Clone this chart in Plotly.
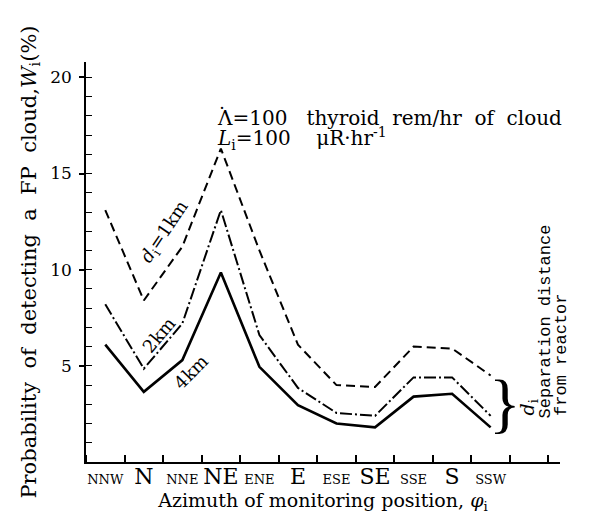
import plotly.graph_objects as go

categories = ["NNW", "N", "NNE", "NE", "ENE", "E", "ESE", "SE", "SSE", "S", "SSW"]
major_dirs = {"N", "NE", "E", "SE", "S"}
w_1km = [13.1, 8.4, 11.2, 16.3, 11.0, 6.1, 4.0, 3.9, 6.0, 5.9, 4.5]
w_2km = [8.2, 4.85, 7.2, 13.1, 6.6, 3.85, 2.55, 2.4, 4.4, 4.4, 2.4]
w_4km = [6.1, 3.65, 5.3, 9.85, 4.95, 2.95, 2.0, 1.8, 3.4, 3.55, 1.8]
y_ticks = [5, 10, 15, 20]

xpos = list(range(len(categories)))
ticktext = [
    (f"<span style='font-size:22px'>{c}</span>" if c in major_dirs
     else f"<span style='font-size:13px'>{c}</span>")
    for c in categories
]

SERIF = "DejaVu Serif"
MONO = "Liberation Mono"
NB = "\u00a0"
fig = go.Figure()
fig.add_trace(go.Scatter(x=xpos, y=w_1km, mode="lines",
                         line=dict(color="black", width=2, dash="9px,5px")))
fig.add_trace(go.Scatter(x=xpos, y=w_2km, mode="lines",
                         line=dict(color="black", width=2, dash="12px,3px,2px,3px")))
fig.add_trace(go.Scatter(x=xpos, y=w_4km, mode="lines",
                         line=dict(color="black", width=2.6)))

# page body has an 8px default margin; compensate so the plot area lands in place
fig.update_layout(
    width=585, height=509,
    margin=dict(l=78, r=33, t=54, b=55),
    plot_bgcolor="white", paper_bgcolor="white",
    showlegend=False,
    font=dict(family=SERIF, color="black", size=17),
)
fig.update_xaxes(
    range=[-0.5, 11.8], showgrid=False, zeroline=False, automargin=False,
    showline=True, linecolor="black", linewidth=1.5,
    tickmode="array", tickvals=xpos, ticktext=ticktext, ticks="",
    tickfont=dict(family=SERIF, size=17),
    minor=dict(tickmode="linear", tick0=0.5, dtick=1, ticks="inside",
               ticklen=7, tickcolor="black", tickwidth=1.5, showgrid=False),
    title=dict(text="Azimuth of monitoring position, <i>φ</i><sub>i</sub>" + NB * 9,
               font=dict(family=SERIF, size=19), standoff=4),
)
fig.update_yaxes(
    range=[0, 20.8], showgrid=False, zeroline=False, automargin=False,
    showline=True, linecolor="black", linewidth=1.5,
    tickmode="array", tickvals=y_ticks, ticks="outside", ticklen=5,
    tickcolor="black", tickwidth=1.5, ticklabelstandoff=4,
    tickfont=dict(family=SERIF, size=17),
    minor=dict(tickmode="linear", tick0=0, dtick=1, ticks="inside",
               ticklen=6, tickcolor="black", tickwidth=1.2, showgrid=False),
    title=dict(text=NB * 6 + "Probability  of  detecting  a  FP  cloud,<i>W</i><sub>i</sub>(%)",
               font=dict(family=SERIF, size=21), standoff=8),
)

ann = [
    dict(x=2.85, y=17.9, text="Λ=100   thyroid  rem/hr  of  cloud",
         xanchor="left", yanchor="middle", font=dict(size=20)),
    dict(x=3.02, y=18.05, text="˙", font=dict(size=20)),
    dict(x=2.85, y=16.8, text="<i>L</i><sub>i</sub>=100    μR·hr<sup>-1</sup>",
         xanchor="left", yanchor="middle", font=dict(size=20)),
    dict(x=1.55, y=11.95, text="<i>d</i><sub>i</sub>=1km", textangle=-56,
         font=dict(size=18)),
    dict(x=1.37, y=6.6, text="2km", textangle=-50, font=dict(size=18)),
    dict(x=2.2, y=4.68, text="4km", textangle=-45, font=dict(size=18)),
    dict(x=10.36, y=3.1, text="}", font=dict(size=66, family="Liberation Serif")),
    dict(x=10.98, y=2.86, text="<i>d</i><sub>i</sub>", textangle=-90,
         font=dict(size=19)),
    dict(x=11.42, y=7.33, text="Separation distance", textangle=-90,
         font=dict(size=17, family=MONO)),
]
for a in ann:
    a.update(xref="x", yref="y", showarrow=False)
    fig.add_annotation(**a)
fig.add_annotation(x=1.002, y=0.2675, xref="paper", yref="paper",
                   xanchor="center", yanchor="middle",
                   text="from reactor", textangle=-90, showarrow=False,
                   font=dict(size=17, family=MONO))

fig.write_html("out.html")
